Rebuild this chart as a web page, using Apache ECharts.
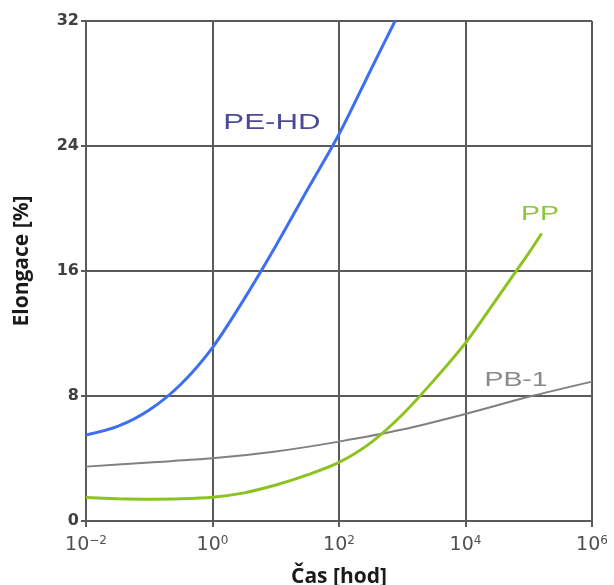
<!DOCTYPE html>
<html>
<head>
<meta charset="utf-8">
<script src="https://cdn.jsdelivr.net/npm/echarts@6/dist/echarts.min.js"></script>
<style>html,body{margin:0;padding:0;background:#fff}#c{width:614px;height:585px}</style>
</head>
<body>
<div id="c"></div>
<script>
// Time [h] and elongation [%]
const peTime = [0.01, 0.0316, 0.1, 0.316, 1, 3.16, 10, 31.6, 100, 316, 770];
const peVal  = [5.5, 6.05, 7.1, 8.75, 11.1, 14.2, 17.6, 21.2, 24.75, 28.85, 32];
const ppTime = [0.01, 0.0316, 0.1, 0.316, 1, 3.16, 10, 31.6, 100, 316, 1000, 3160, 10000, 31600, 100000, 160000];
const ppVal  = [1.5, 1.43, 1.40, 1.42, 1.52, 1.8, 2.3, 2.95, 3.75, 5.0, 6.8, 9.0, 11.4, 14.25, 17.15, 18.4];
const pbTime = [0.01, 0.1, 1, 10, 100, 1000, 10000, 100000, 1000000];
const pbVal  = [3.48, 3.75, 4.01, 4.45, 5.08, 5.85, 6.85, 7.95, 8.92];
const yTicks = [0, 8, 16, 24, 32];
const xTicks = [0.01, 1, 100, 10000, 1000000];
const seriesNames = ['PE-HD', 'PP', 'PB-1'];
// label anchors in data units [time, elongation]
const labelAnchors = [[8.7, 25.5], [150000, 19.6], [63000, 9.0]];

const colors = ['#3d6ff0', '#8cc320', '#808080'];
const labelColors = ['#4a4a98', '#8cc63f', '#8a8a8a'];
const gridColor = '#5a5a5a';

function pairs(t, v) { return t.map((x, i) => [x, v[i]]); }
function supLabel(v) {
  const e = Math.round(Math.log10(v));
  const s = e < 0 ? '\u2212' + (-e) : String(e);
  return '{b|10}{s|' + s + '}';
}

const chart = echarts.init(document.getElementById('c'), null, {renderer: 'canvas'});
const option = {
  animation: false,
  backgroundColor: '#fff',
  grid: {left: 86, right: 22, top: 21, bottom: 64, containLabel: false, outerBoundsMode: 'none'},
  xAxis: {
    type: 'log', logBase: 10, min: xTicks[0], max: xTicks[xTicks.length - 1], interval: 2,
    name: 'Čas [hod]', nameLocation: 'middle', nameGap: 46,
    nameTextStyle: {fontFamily: 'Open Sans', fontWeight: 'bold', fontSize: 21, color: '#1a1a1a'},
    axisLine: {show: true, lineStyle: {color: gridColor, width: 2}},
    axisTick: {show: true, length: 6, lineStyle: {color: gridColor, width: 2}},
    minorTick: {show: false},
    splitLine: {show: true, lineStyle: {color: gridColor, width: 2}},
    axisLabel: {
      showMinLabel: true, showMaxLabel: true, margin: 14,
      formatter: supLabel,
      rich: {
        b: {fontFamily: 'DejaVu Sans', fontSize: 19, color: '#505050', lineHeight: 20},
        s: {fontFamily: 'DejaVu Sans', fontSize: 12, color: '#505050', verticalAlign: 'top', lineHeight: 12}
      }
    }
  },
  yAxis: {
    type: 'value', min: yTicks[0], max: yTicks[yTicks.length - 1], interval: 8,
    name: 'Elongace [%]', nameLocation: 'middle', nameGap: 53, nameRotate: 90,
    nameTextStyle: {fontFamily: 'Open Sans', fontWeight: 'bold', fontSize: 21, color: '#1a1a1a',
      padding: [0, 0, 0, 20]},
    axisLine: {show: true, lineStyle: {color: gridColor, width: 2}},
    axisTick: {show: true, length: 5, lineStyle: {color: gridColor, width: 2}},
    splitLine: {show: true, lineStyle: {color: gridColor, width: 2}},
    axisLabel: {margin: 7, fontFamily: 'DejaVu Sans', fontWeight: 'bold', fontSize: 16, color: '#404040',
      showMinLabel: true, showMaxLabel: true}
  },
  series: [
    {name: seriesNames[0], type: 'line', data: pairs(peTime, peVal), smooth: 0.3,
      showSymbol: false, lineStyle: {color: colors[0], width: 3}, z: 5},
    {name: seriesNames[1], type: 'line', data: pairs(ppTime, ppVal), smooth: 0.3,
      showSymbol: false, lineStyle: {color: colors[1], width: 3}, z: 4},
    {name: seriesNames[2], type: 'line', data: pairs(pbTime, pbVal), smooth: 0.3,
      showSymbol: false, lineStyle: {color: colors[2], width: 2}, z: 3}
  ]
};
chart.setOption(option);

const fontSizes = [22, 20, 20];
const graphics = labelAnchors.map((a, i) => {
  const p = chart.convertToPixel({gridIndex: 0}, a);
  return {
    type: 'text', x: p[0], y: p[1], scaleX: 1.42, scaleY: 1, z: 10,
    style: {text: seriesNames[i], x: 0, y: 0, align: 'center', verticalAlign: 'middle',
      fontFamily: 'Liberation Sans', fontSize: fontSizes[i], fill: labelColors[i]}
  };
});
chart.setOption({graphic: graphics});
</script>
</body>
</html>
